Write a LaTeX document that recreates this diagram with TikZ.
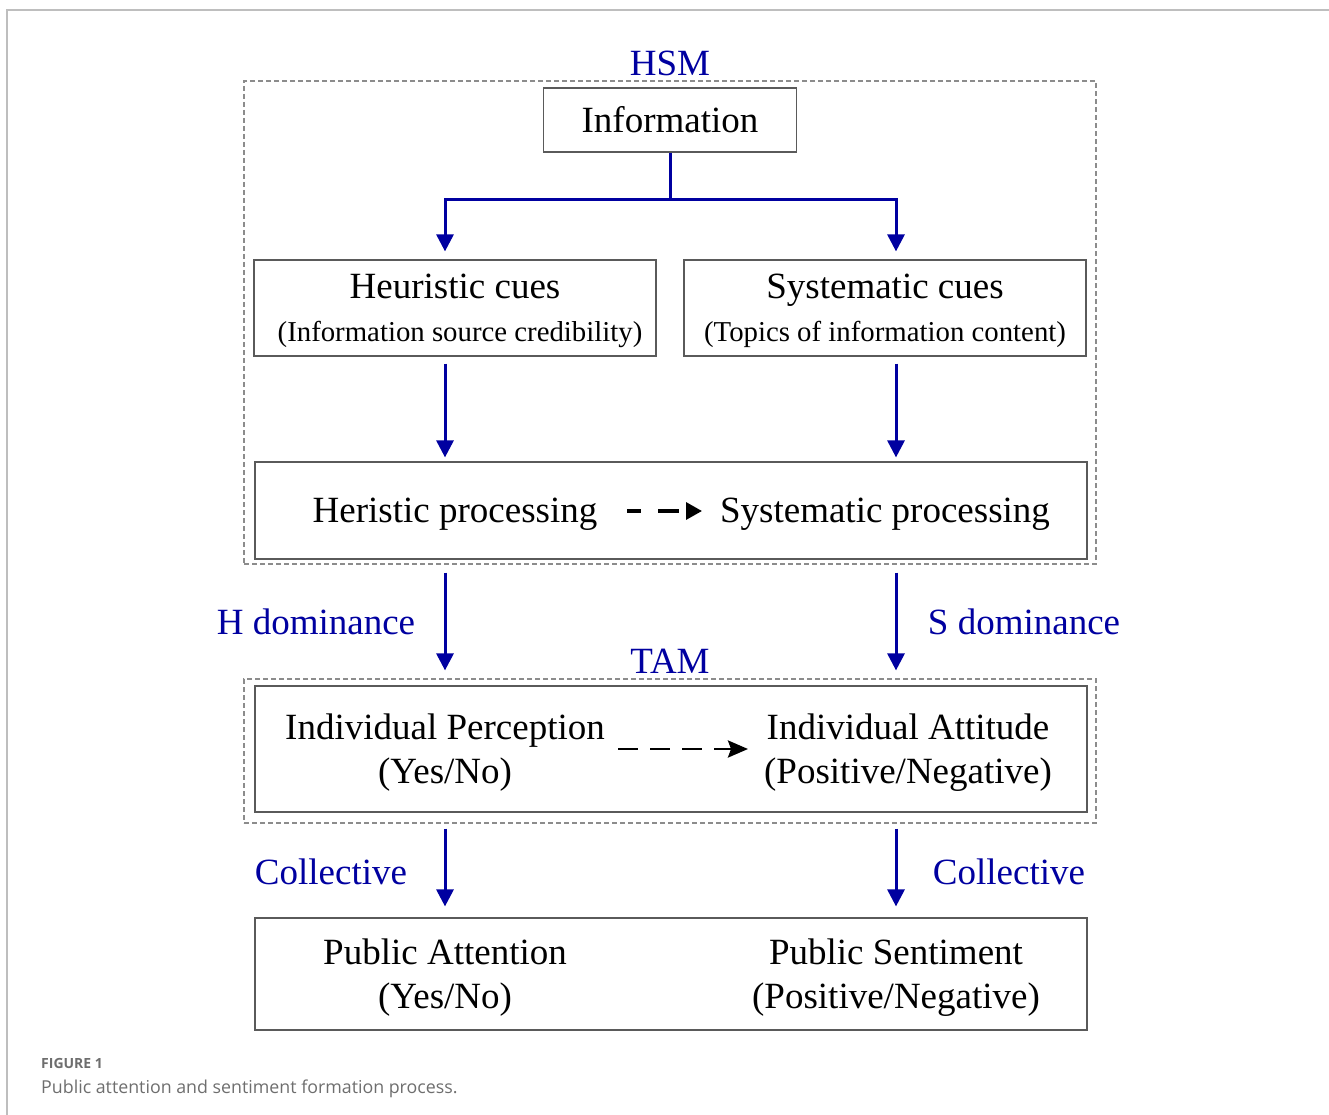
\documentclass[tikz,border=0pt]{standalone}
\usepackage{fontspec}
\setmainfont{Liberation Serif}
\newfontfamily\capfont{Open Sans}
\usetikzlibrary{arrows.meta}
\definecolor{hblue}{RGB}{0,0,160}
\definecolor{boxgray}{RGB}{90,90,90}
\definecolor{dashgray}{RGB}{140,140,140}
\definecolor{framegray}{RGB}{190,190,190}
\definecolor{capgray}{RGB}{110,110,110}
\tikzset{
  box/.style={draw=boxgray, line width=1.2pt, rectangle, inner sep=0pt},
  dbox/.style={draw=dashgray, line width=1.1pt, dash pattern=on 5pt off 3pt, rectangle, inner sep=0pt},
  big/.style={inner sep=0pt, anchor=base, font=\fontsize{37pt}{40pt}\selectfont},
  small/.style={inner sep=0pt, anchor=base, font=\fontsize{28.8pt}{31pt}\selectfont},
  lbl/.style={big, text=hblue},
  arr/.style={draw=hblue, line width=3pt, -{Triangle[width=17pt,length=17pt]}},
}
\begin{document}
\begin{tikzpicture}[x=1pt,y=-1pt]
\useasboundingbox (0,0) rectangle (1329,1115);
% frame
\draw[framegray, line width=2pt] (1329,10) -- (7,10) -- (7,1115);
% dashed containers
\node[dbox, minimum width=852pt, minimum height=483pt] (hsm) at (670,322.5) {};
\node[dbox, minimum width=852pt, minimum height=144pt] (tam) at (670,751) {};
\node[lbl] (hsml) at (670,76) {HSM};
\node[lbl] (taml) at (670,673) {TAM};
% boxes
\node[box, minimum width=253pt, minimum height=64pt] (info) at (670,120) {};
\node[big] (infot) at (670,133) {Information};
\node[box, minimum width=402pt, minimum height=96pt] (heur) at (455,308) {};
\node[box, minimum width=402pt, minimum height=96pt] (syst) at (885,308) {};
\node[big] (heurt) at (455,298) {Heuristic cues};
\node[small] (heurs) at (460,341) {(Information source credibility)};
\node[big] (systt) at (885,298) {Systematic cues};
\node[small] (systs) at (885,341) {(Topics of information content)};
\node[box, minimum width=832pt, minimum height=97pt] (proc) at (671,510.5) {};
\node[big] (hproc) at (455,522) {Heristic processing};
\node[big] (sproc) at (885,522) {Systematic processing};
\node[box, minimum width=832pt, minimum height=126pt] (perc) at (671,749) {};
\node[big] (iperc) at (445,739) {Individual Perception};
\node[big] (iperc2) at (445,783) {(Yes/No)};
\node[big] (iatt) at (908,739) {Individual Attitude};
\node[big] (iatt2) at (908,783) {(Positive/Negative)};
\node[box, minimum width=832pt, minimum height=112pt] (pub) at (671,974) {};
\node[big] (patt) at (445,964) {Public Attention};
\node[big] (patt2) at (445,1008) {(Yes/No)};
\node[big] (psen) at (896,964) {Public Sentiment};
\node[big] (psen2) at (896,1008) {(Positive/Negative)};
% labels
\node[lbl] (hdom) at (316,634) {H dominance};
\node[lbl] (sdom) at (1024,634) {S dominance};
\node[lbl] (colL) at (331,884) {Collective};
\node[lbl] (colR) at (1009,884) {Collective};
% connectors
\coordinate (split) at (670,200);
\draw[draw=hblue, line width=3pt] (info.south) -- (split);
\draw[arr, shorten >=8pt] (split) -| ([xshift=-10pt]heur.north);
\draw[arr, shorten >=8pt] (split) -| ([xshift=11pt]syst.north);
\draw[arr, shorten <=7pt, shorten >=4pt] ([xshift=-10pt]heur.south) -- ([xshift=-10pt]heur.south |- proc.north);
\draw[arr, shorten <=7pt, shorten >=4pt] ([xshift=11pt]syst.south) -- ([xshift=11pt]syst.south |- proc.north);
\draw[arr, shorten <=13pt, shorten >=15pt] ([xshift=-10pt]heur.south |- proc.south) -- ([xshift=-10pt]heur.south |- perc.north);
\draw[arr, shorten <=13pt, shorten >=15pt] ([xshift=11pt]syst.south |- proc.south) -- ([xshift=11pt]syst.south |- perc.north);
\draw[arr, shorten <=16pt, shorten >=11pt] ([xshift=-10pt]heur.south |- perc.south) -- ([xshift=-10pt]heur.south |- pub.north);
\draw[arr, shorten <=16pt, shorten >=11pt] ([xshift=11pt]syst.south |- perc.south) -- ([xshift=11pt]syst.south |- pub.north);
% dashed arrows
\coordinate (qa) at (627,511);
\coordinate (qb) at (702,511);
\draw[black, line width=3.2pt, dash pattern=on 14pt off 17pt on 21pt off 20pt, -{Triangle[length=16pt,width=17pt]}] (qa) -- (qb);
\coordinate (pa) at (618,749);
\coordinate (pb) at (748,749);
\draw[black, line width=2.8pt, dash pattern=on 20pt off 12pt, -{Stealth[length=20pt,width=17pt,inset=3pt]}] (pa) -- (pb);
% caption
\node[inner sep=0pt, anchor=base west, text=capgray, font=\capfont\bfseries\fontsize{14pt}{16pt}\selectfont] (figl) at (41,1068) {FIGURE 1};
\node[inner sep=0pt, anchor=base west, text=capgray, font=\capfont\fontsize{17.8pt}{20pt}\selectfont] (figc) at (41,1093) {Public attention and sentiment formation process.};
\end{tikzpicture}
\end{document}
